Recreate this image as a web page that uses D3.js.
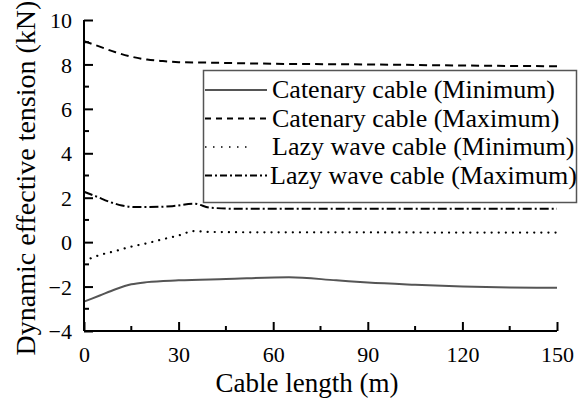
<!DOCTYPE html>
<html><head><meta charset="utf-8">
<script src="https://cdn.jsdelivr.net/npm/d3@7"></script>
<style>body{margin:0;background:#fff}svg{display:block}</style>
</head><body>
<script>
const xTicks = [0, 30, 60, 90, 120, 150];
const yTicks = [-4, -2, 0, 2, 4, 6, 8, 10];
const seriesNames = ["Catenary cable (Minimum)", "Catenary cable (Maximum)", "Lazy wave cable (Minimum)", "Lazy wave cable (Maximum)"];
const catMinX = [0, 5, 10, 15, 20, 30, 45, 65, 80, 90, 105, 120, 135, 150];
const catMinY = [-2.68, -2.4, -2.12, -1.9, -1.8, -1.72, -1.66, -1.58, -1.72, -1.82, -1.92, -2.0, -2.04, -2.05];
const catMaxX = [0, 5, 10, 15, 20, 25, 30, 40, 60, 90, 120, 150];
const catMaxY = [9.05, 8.8, 8.55, 8.35, 8.22, 8.15, 8.1, 8.08, 8.03, 8.0, 7.95, 7.92];
const lazyMinX = [0, 5, 10, 15, 20, 25, 30, 35, 40, 60, 90, 120, 150];
const lazyMinY = [-0.85, -0.58, -0.4, -0.2, -0.05, 0.13, 0.3, 0.5, 0.46, 0.44, 0.44, 0.43, 0.43];
const lazyMaxX = [0, 4, 8, 12, 16, 20, 28, 35, 40, 50, 90, 150];
const lazyMaxY = [2.27, 2.05, 1.82, 1.65, 1.58, 1.58, 1.62, 1.73, 1.55, 1.5, 1.5, 1.5];

const FONT = "Liberation Serif";
const W = 583, H = 400;
const svg = d3.select("body").append("svg").attr("width", W).attr("height", H);
const x = d3.scaleLinear().domain([0, 150]).range([84, 557]);
const y = d3.scaleLinear().domain([-4, 10]).range([331, 20]);

const styles = [
  {stroke: "#555", width: 2, dash: null},
  {stroke: "#000", width: 2, dash: "8,5"},
  {stroke: "#000", width: 2.2, dash: "0.1,7", cap: "round"},
  {stroke: "#000", width: 2, dash: "9,3,2,3"}
];
const data = [
  catMinX.map((v, i) => [v, catMinY[i]]),
  catMaxX.map((v, i) => [v, catMaxY[i]]),
  lazyMinX.map((v, i) => [v, lazyMinY[i]]),
  lazyMaxX.map((v, i) => [v, lazyMaxY[i]])
];
const line = d3.line().x(d => x(d[0])).y(d => y(d[1])).curve(d3.curveMonotoneX);
data.forEach((d, i) => {
  const s = styles[i];
  svg.append("path").attr("d", line(d)).attr("fill", "none")
    .attr("stroke", s.stroke).attr("stroke-width", s.width)
    .attr("stroke-dasharray", s.dash).attr("stroke-linecap", s.cap || "butt");
});

// axes
const xAxis = svg.append("g").attr("transform", "translate(0,331)")
  .call(d3.axisBottom(x).tickValues(xTicks).tickSize(-9).tickPadding(14).tickFormat(d3.format("d")));
const yAxis = svg.append("g").attr("transform", "translate(84,0)")
  .call(d3.axisLeft(y).tickValues(yTicks).tickSize(-9).tickPadding(12).tickFormat(d3.format("d")));
const xMinor = [15, 45, 75, 105, 135];
const yMinor = [-3, -1, 1, 3, 5, 7, 9];
svg.append("g").selectAll("line").data(xMinor).join("line")
  .attr("x1", d => x(d)).attr("x2", d => x(d)).attr("y1", 331).attr("y2", 326)
  .attr("stroke", "#000").attr("stroke-width", 2);
svg.append("g").selectAll("line").data(yMinor).join("line")
  .attr("y1", d => y(d)).attr("y2", d => y(d)).attr("x1", 84).attr("x2", 89)
  .attr("stroke", "#000").attr("stroke-width", 2);
[xAxis, yAxis].forEach(g => {
  g.attr("font-family", FONT).attr("font-size", 22);
  g.selectAll(".tick line").attr("stroke-width", 2);
  g.selectAll("text").attr("fill", "#000");
});
xAxis.select(".domain").attr("stroke-width", 2).attr("d", "M84,0H557");
yAxis.select(".domain").attr("stroke-width", 2).attr("d", "M0,331V20");
xAxis.selectAll(".tick text").attr("y", 0).attr("dy", null).attr("transform", "translate(0,31)");
yAxis.selectAll(".tick text").attr("x", -12).attr("dy", "0.35em");

svg.append("text").attr("x", 307).attr("y", 392).attr("text-anchor", "middle")
  .attr("font-family", FONT).attr("font-size", 27).text("Cable length (m)");
svg.append("text").attr("transform", "translate(35,178) rotate(-90)").attr("text-anchor", "middle")
  .attr("font-family", FONT).attr("font-size", 28).text("Dynamic effective tension (kN)");

// legend
const lg = svg.append("g");
lg.append("rect").attr("x", 203.5).attr("y", 70.5).attr("width", 373).attr("height", 132)
  .attr("fill", "#fff").attr("stroke", "#555").attr("stroke-width", 1.5);
const legDash = ["", "6,5", "1.5,6.5", "7,3,2,3"];
const legTextX = [272, 272, 272, 270];
const legEnd = [267, 267, 252, 267];
seriesNames.forEach((n, i) => {
  const base = 98 + i * 28.5;
  const yy = base - 8;
  lg.append("line").attr("x1", 205).attr("x2", legEnd[i]).attr("y1", yy).attr("y2", yy)
    .attr("stroke", styles[i].stroke).attr("stroke-width", i === 2 ? 1.5 : 2)
    .attr("stroke-dasharray", legDash[i] || null);
  lg.append("text").attr("x", legTextX[i]).attr("y", base)
    .attr("font-family", FONT).attr("font-size", 26).attr("fill", "#000").text(n);
});
</script>
</body></html>
